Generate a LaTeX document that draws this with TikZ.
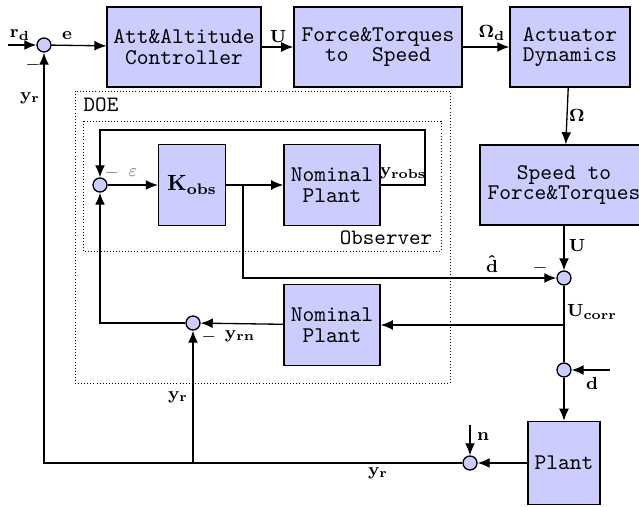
\documentclass[tikz,border=0pt]{standalone}
\usepackage{amsmath}
\usepackage{amssymb}
\usepackage{xcolor}
\usetikzlibrary{arrows.meta}

\begin{document}
\begin{tikzpicture}[x=0.016cm, y=0.016cm]
	\tikzstyle{every node}+=[inner sep=0pt]
	\tikzstyle{blk}=[draw=black, fill=blue!20, semithick, font=\fontsize{10.2}{9.4}\selectfont\ttfamily, align=center]
	\tikzstyle{sumc}=[draw=black, fill=blue!20, semithick, circle, minimum size=0.224cm]
	\tikzstyle{sig}=[font=\footnotesize]
	\tikzstyle{conn}=[semithick, -{Latex[length=5.5pt,width=4.5pt]}]
	\tikzstyle{wire}=[semithick]
	\useasboundingbox (0,0) rectangle (639,-507);
	% DOE and observer frames
	\draw [densely dotted] (75,-91) rectangle (450,-383);
	\draw [densely dotted] (83,-121) rectangle (441,-251);
	\node (doe) at (101,-105) {\ttfamily DOE};
	\node (obs) at (386,-238) {\ttfamily Observer};
	% forward path
	\node [sumc] (s1) at (44,-45) {};
	\node [blk, minimum width=2.46cm, minimum height=1.28cm] (ctrl) at (184,-47) {Att\&Altitude\\Controller};
	\node [blk, minimum width=2.69cm, minimum height=1.28cm] (f2s) at (378,-47) {Force\&Torques\\to\ \ Speed};
	\node [blk, minimum width=1.92cm, minimum height=1.28cm] (act) at (570,-47) {Actuator\\Dynamics};
	\node [blk, minimum width=2.69cm, minimum height=1.28cm] (s2f) at (564,-185) {Speed to\\Force\&Torques};
	\node [sumc] (s3) at (564,-278) {};
	\node [sumc] (s4) at (564,-370) {};
	\node [blk, minimum width=1.15cm, minimum height=1.33cm] (plant) at (564,-463) {Plant};
	\node [sumc] (s5) at (470,-463) {};
	% observer
	\node [sumc] (s7) at (100,-185) {};
	\node [blk, minimum width=1.07cm, minimum height=1.3cm, font=\normalsize] (kobs) at (192,-185) {$\mathbf{K_{obs}}$};
	\node [blk, minimum width=1.54cm, minimum height=1.3cm] (np1) at (332,-185) {Nominal\\Plant};
	\node [blk, minimum width=1.54cm, minimum height=1.3cm] (np2) at (332,-325) {Nominal\\Plant};
	\node [sumc] (s6) at (193,-323) {};
	% free ends and taps
	\coordinate (rin) at (8,-45);
	\coordinate (din) at (610,-370);
	\coordinate (nin) at (470,-425);
	\coordinate (tap) at (243,-185);
	\coordinate (ucorr) at (564,-325);
	\coordinate (yrtap) at (193,-463);
	\coordinate (fb) at (425,-130);
	% connectors
	\draw [conn] (rin) -- (s1);
	\draw [conn] (s1) -- (ctrl);
	\draw [conn] (ctrl) -- (f2s);
	\draw [conn] (f2s) -- (act);
	\draw [conn] (act) -- (s2f);
	\draw [conn] (s2f) -- (s3);
	\draw [wire] (s3) -- (s4);
	\draw [conn] (ucorr) -- (np2);
	\draw [conn] (din) -- (s4);
	\draw [conn] (s4) -- (plant);
	\draw [conn] (plant) -- (s5);
	\draw [conn] (nin) -- (s5);
	\draw [conn] (s5) -| (s1);
	\draw [conn] (yrtap) -- (s6);
	\draw [conn] (np2) -- (s6);
	\draw [conn] (s6) -| (s7);
	\draw [conn] (s7) -- (kobs);
	\draw [conn] (kobs) -- (np1);
	\draw [conn] (tap) |- (s3);
	\draw [conn] (np1) -| (fb) -| (s7);
	% signal labels
	\node [sig] (lrd) at (20,-35) {$\mathbf{r_d}$};
	\node [sig] (le) at (67,-36) {$\mathbf{e}$};
	\node [sig] (lu1) at (278,-36) {$\mathbf{U}$};
	\node [sig] (lomd) at (492,-33) {$\mathbf{\Omega_d}$};
	\node [sig] (lom) at (577,-115) {$\mathbf{\Omega}$};
	\node [sig] (lu2) at (577,-245) {$\mathbf{U}$};
	\node [sig] (ldh) at (492,-264) {$\mathbf{\hat{d}}$};
	\node [sig] (lm3) at (540,-268) {$-$};
	\node [sig] (luc) at (592,-312) {$\mathbf{U_{corr}}$};
	\node [sig] (ld) at (592,-383) {$\mathbf{d}$};
	\node [sig] (ln) at (483,-437) {$\mathbf{n}$};
	\node [sig] (lyr1) at (378,-473) {$\mathbf{y_r}$};
	\node [sig] (lyr2) at (178,-397) {$\mathbf{y_r}$};
	\node [sig] (lyr3) at (30,-98) {$\mathbf{y_r}$};
	\node [sig] (lm1) at (33,-65) {$-$};
	\node [sig] (lyrn) at (240,-336) {$\mathbf{y_{rn}}$};
	\node [sig] (lm6) at (209,-337) {$-$};
	\node [sig, text=gray] (lm7) at (112,-173) {$-$};
	\node [sig, text=gray] (leps) at (133,-173) {$\varepsilon$};
	\node [sig] (lyro) at (403,-173) {$\mathbf{y_{robs}}$};
\end{tikzpicture}
\end{document}
